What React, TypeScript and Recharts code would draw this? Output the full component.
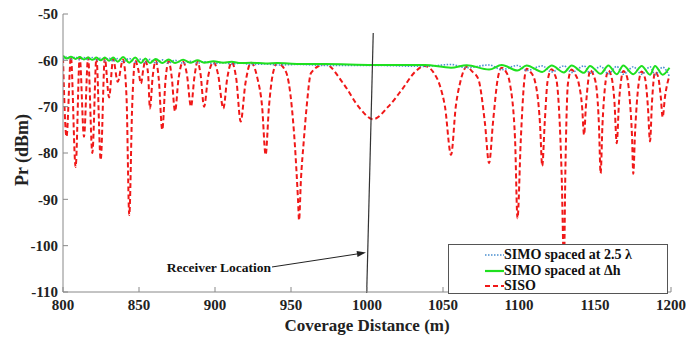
import { LineChart, Line, XAxis, YAxis, ReferenceLine, Label } from 'recharts'

const FONT = '"Liberation Serif", "Times New Roman", serif'

const xTicks = [800, 850, 900, 950, 1000, 1050, 1100, 1150, 1200]
const yTicks = [-110, -100, -90, -80, -70, -60, -50]

// SISO, dashed red: peaks and nulls
const sisoPoints: [number, number][] = [
  [800, -59.5], [802.3, -76.5], [805.2, -59.3], [808.3, -83], [811, -59.3], [813.8, -76.5], [816.5, -59.4],
  [819.3, -80], [822, -59.5], [824.8, -81.5], [827.5, -59.6], [830.3, -68], [833, -59.7], [836, -64.6], [839.5, -59.8],
  [841.8, -68], [843.6, -93.4], [845.5, -70], [847.5, -60],
  [849.5, -62], [851.3, -65], [852.8, -62], [854.2, -60],
  [856, -63], [857.2, -70.4], [859, -63.5], [861, -60.1],
  [863, -64], [865.3, -75], [867.5, -64], [869.5, -60.2],
  [871.5, -63.5], [873.7, -71], [876, -64], [879, -60.3],
  [881.5, -63], [884.2, -70], [886.5, -63.5], [888.5, -60.3],
  [890.5, -63], [892.8, -70], [895.5, -63.5], [899, -60.4],
  [902, -63], [905.5, -70.4], [908, -64], [911, -60.4],
  [914, -64], [916.9, -73.2], [920, -65], [923.7, -60.5],
  [928, -64], [931, -70], [933.3, -80.4], [935.5, -70], [938, -63], [941, -60.6],
  [946.7, -62.5], [950.5, -70], [952.5, -78], [954.6, -90], [955.3, -94.5], [956.5, -86], [958.5, -77],
  [960.3, -70], [963.2, -62.7], [972.4, -60.8],
  [984.4, -65], [995.4, -70.4], [1004, -72.7], [1014, -70], [1022.8, -66.4], [1031.6, -62.5], [1038, -61.2],
  [1043.5, -62.5], [1048, -65.5], [1051.3, -70], [1055.3, -80.4], [1058.4, -70], [1061.5, -64.5], [1065.6, -61.4],
  [1069.5, -62.5], [1073.2, -64], [1077.6, -73.6], [1080.3, -82.2], [1083, -73], [1086, -64], [1088.6, -61.6],
  [1091.5, -62.5], [1094, -65], [1097.4, -77], [1099, -94.1], [1101.2, -77], [1103.3, -65], [1105, -61.8],
  [1107.5, -62.5], [1110.5, -64.5], [1113.8, -73.6], [1115.3, -82.8], [1116.9, -73.6], [1118.8, -64.5], [1121.5, -61.9],
  [1123.5, -63], [1125, -65], [1128, -84], [1129.6, -104], [1130.5, -84], [1132.2, -65], [1134.6, -62],
  [1137, -63], [1139.3, -65], [1141.5, -70], [1142.8, -76.1], [1144, -70], [1145.5, -64.5], [1146.7, -62.1],
  [1149, -63.2], [1151, -66], [1152.6, -74], [1153.7, -84.4], [1154.9, -74], [1156.5, -66], [1158.8, -62.2],
  [1160.8, -63.5], [1162.8, -69], [1164.3, -77.9], [1165.8, -69], [1167.3, -64], [1168.6, -62.3],
  [1171, -63.5], [1173, -69], [1174.3, -76], [1175.2, -84.5], [1176.3, -76], [1177.8, -68], [1180.7, -62.4],
  [1183, -64], [1184.8, -70], [1186.2, -77.5], [1187.5, -69], [1189.5, -62.5],
  [1191.5, -63.5], [1193.3, -68], [1194.5, -72.3], [1196, -68], [1199, -63.3],
]

// SIMO spaced at delta h, solid green
const simoDeltaPoints: [number, number][] = [
  [800, -59.0], [802.3, -59.6], [805.2, -59.2], [808.3, -59.7], [811, -59.3], [813.8, -59.8], [816.5, -59.4],
  [819.3, -59.9], [822, -59.4], [824.8, -60.0], [827.5, -59.4], [830.3, -60.1], [833, -59.4], [836, -60.3],
  [839.5, -59.3], [843.6, -60.5], [847.5, -59.4], [851.3, -60.6], [854.2, -59.6], [857.2, -60.6], [861, -59.7],
  [865.3, -60.6], [869.5, -59.8], [873.7, -60.6], [879, -59.9], [884.2, -60.5], [888.5, -60.0], [892.8, -60.5],
  [899, -60.2], [905.5, -60.5], [911, -60.3], [916.9, -60.6], [923.7, -60.5], [933.3, -60.7], [941, -60.6],
  [955.3, -60.8], [972.4, -60.8], [1004, -61.0], [1038, -61.0], [1055.3, -61.6], [1065.6, -61.05],
  [1080.3, -62.0], [1088.6, -61.0], [1099, -62.2], [1105, -61.1], [1115.3, -62.5], [1121.5, -61.1],
  [1129.6, -62.6], [1134.6, -61.1], [1142.8, -62.7], [1146.7, -61.2], [1153.7, -62.9], [1158.8, -61.1],
  [1164.3, -63.0], [1168.6, -61.1], [1175.2, -63.0], [1180.7, -61.2], [1186.2, -63.1], [1189.5, -61.2],
  [1194.5, -63.1], [1199, -61.6],
]

// SIMO spaced at 2.5 lambda, dotted blue
const simoLambdaPoints: [number, number][] = [
  [800, -59.8], [802.3, -59.3], [805.2, -59.8], [808.3, -59.3], [811, -59.9], [813.8, -59.4], [816.5, -59.9],
  [819.3, -59.4], [822, -60.0], [824.8, -59.5], [827.5, -60.1], [830.3, -59.5], [833, -60.2], [836, -59.6],
  [839.5, -60.3], [843.6, -59.6], [847.5, -60.4], [851.3, -59.7], [854.2, -60.5], [857.2, -59.8], [861, -60.6],
  [865.3, -59.9], [869.5, -60.6], [873.7, -60.0], [879, -60.6], [884.2, -60.2], [888.5, -60.6], [892.8, -60.3],
  [899, -60.7], [905.5, -60.5], [911, -60.8], [916.9, -60.6], [923.7, -60.9], [933.3, -60.8], [941, -61.0],
  [955.3, -60.9], [972.4, -61.1], [1004, -61.1], [1038, -61.3], [1055.3, -60.9], [1065.6, -61.6],
  [1080.3, -61.0], [1088.6, -62.0], [1099, -61.1], [1105, -62.2], [1115.3, -61.2], [1121.5, -62.5],
  [1129.6, -61.2], [1134.6, -62.6], [1142.8, -61.2], [1146.7, -62.8], [1153.7, -61.3], [1158.8, -62.9],
  [1164.3, -61.3], [1168.6, -63.0], [1175.2, -61.4], [1180.7, -63.0], [1186.2, -61.4], [1189.5, -63.1],
  [1194.5, -61.5], [1199, -63.5],
]

const toRows = (pts: [number, number][]) => pts.map(([x, y]) => ({ x, y }))

const RED = '#f01818'
const GREEN = '#1fe01f'
const BLUE = '#4a8fd0'

function ArrowShape(props: any) {
  const { x1, y1, x2, y2 } = props
  const ang = Math.atan2(y2 - y1, x2 - x1)
  const len = 9
  const w = 3
  const bx = x2 - len * Math.cos(ang)
  const by = y2 - len * Math.sin(ang)
  const px = -Math.sin(ang) * w
  const py = Math.cos(ang) * w
  return (
    <g>
      <line x1={x1} y1={y1} x2={bx} y2={by} stroke="#222" strokeWidth={1} />
      <polygon points={`${x2},${y2} ${bx + px},${by + py} ${bx - px},${by - py}`} fill="#222" />
      <text
        x={x1 - 1}
        y={y1 + 1}
        textAnchor="end"
        dominantBaseline="central"
        fontFamily={FONT}
        fontWeight="bold"
        fontSize={13.5}
        fill="#111"
      >
        Receiver Location
      </text>
    </g>
  )
}

function LegendBox() {
  const rows = [
    { name: 'SIMO spaced at 2.5 λ', color: BLUE, dash: '1.5 1.5', w: 1.6 },
    { name: 'SIMO spaced at Δh', color: GREEN, dash: undefined, w: 2.2 },
    { name: 'SISO', color: RED, dash: '5 3', w: 2 },
  ]
  return (
    <div
      style={{
        position: 'absolute',
        left: 448,
        top: 244,
        width: 218,
        height: 48,
        border: '1px solid #555',
        background: '#fff',
        fontFamily: FONT,
        fontWeight: 'bold',
        fontSize: 14,
        color: '#111',
      }}
    >
      {rows.map((r, i) => (
        <div
          key={r.name}
          style={{ position: 'absolute', left: 36, top: 2 + i * 15.5, height: 16, display: 'flex', alignItems: 'center' }}
        >
          <svg width={19} height={16}>
            <line x1={0} y1={8} x2={19} y2={8} stroke={r.color} strokeWidth={r.w} strokeDasharray={r.dash} />
          </svg>
          <span style={{ whiteSpace: 'nowrap', lineHeight: '16px' }}>{r.name}</span>
        </div>
      ))}
    </div>
  )
}

export default function App() {
  const tickStyle = { fontFamily: FONT, fontWeight: 'bold', fontSize: 15, fill: '#222' }
  return (
    <div style={{ position: 'absolute', left: 0, top: 0, width: 686, height: 339, background: '#fff' }}>
      <LineChart width={686} height={339} margin={{ top: 14, right: 15, bottom: 0, left: 0 }}>
        <XAxis
          type="number"
          dataKey="x"
          domain={[800, 1200]}
          ticks={xTicks}
          allowDataOverflow
          height={47}
          stroke="#888"
          tickSize={-5}
          tickMargin={12}
          tick={tickStyle}
        >
          <Label
            value="Coverage Distance (m)"
            position="insideBottom"
            offset={8}
            style={{ fontFamily: FONT, fontWeight: 'bold', fontSize: 17, fill: '#222' }}
          />
        </XAxis>
        <YAxis
          type="number"
          dataKey="y"
          domain={[-110, -50]}
          ticks={yTicks}
          allowDataOverflow
          width={63}
          stroke="#888"
          tickSize={-5}
          tickMargin={10}
          tick={tickStyle}
        >
          <Label
            content={() => (
              <text
                x={22}
                y={150}
                transform="rotate(-90 22 150)"
                textAnchor="middle"
                dominantBaseline="central"
                fontFamily={FONT}
                fontWeight="bold"
                fontSize={18}
                fill="#222"
              >
                Pr (dBm)
              </text>
            )}
          />
        </YAxis>
        <Line
          data={toRows(sisoPoints)}
          dataKey="y"
          type="monotone"
          stroke={RED}
          strokeWidth={2}
          strokeDasharray="5 3"
          dot={false}
          isAnimationActive={false}
        />
        <Line
          data={toRows(simoLambdaPoints)}
          dataKey="y"
          type="monotone"
          stroke={BLUE}
          strokeWidth={1.6}
          strokeDasharray="1.5 1.5"
          dot={false}
          isAnimationActive={false}
        />
        <Line
          data={toRows(simoDeltaPoints)}
          dataKey="y"
          type="monotone"
          stroke={GREEN}
          strokeWidth={2}
          dot={false}
          isAnimationActive={false}
        />
        <ReferenceLine
          segment={[{ x: 1004.1, y: -54.1 }, { x: 999.8, y: -110.2 }]}
          stroke="#333"
          strokeWidth={1.2}
          ifOverflow="visible"
        />
        <ReferenceLine
          segment={[{ x: 937.5, y: -104.6 }, { x: 999.3, y: -101.5 }]}
          ifOverflow="visible"
          shape={ArrowShape}
        />
      </LineChart>
      <LegendBox />
    </div>
  )
}
